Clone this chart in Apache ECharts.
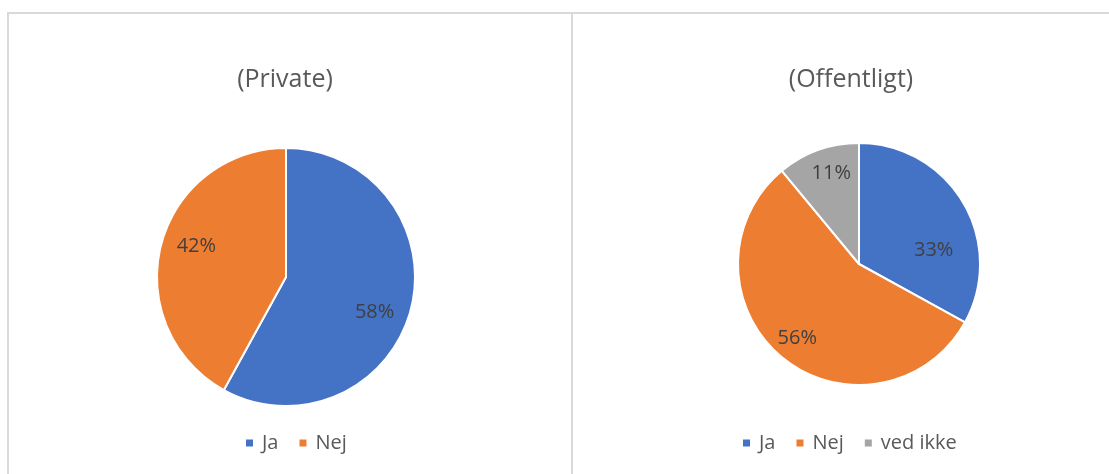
<!DOCTYPE html>
<html>
<head>
<meta charset="utf-8">
<script src="https://cdn.jsdelivr.net/npm/echarts@6/dist/echarts.min.js"></script>
<style>
html,body{margin:0;padding:0;background:#fff;}
#chart{width:1109px;height:474px;}
</style>
</head>
<body>
<div id="chart"></div>
<script>
// Data
const privateTitle = '(Private)';
const privateCategories = ['Ja', 'Nej'];
const privateValues = [58, 42];

const publicTitle = '(Offentligt)';
const publicCategories = ['Ja', 'Nej', 'ved ikke'];
const publicValues = [33, 56, 11];

// label nudges (style only, mimic Excel "best fit" placement)
const privateLabelNudge = [[-8, 10], [7, -6]];
const publicLabelNudge = [[-6, 34], [-2, 2], [4, -2]];

const colors = {'Ja': '#4472C4', 'Nej': '#ED7D31', 'ved ikke': '#A5A5A5'};
const FONT = 'Open Sans';

function toData(cats, vals) {
  return cats.map((c, i) => ({ name: c, value: vals[i], itemStyle: { color: colors[c] } }));
}

function pieSeries(cats, vals, nudge, cx, cy, r) {
  return [
    {
      type: 'pie',
      center: [cx, cy],
      radius: [0, r],
      startAngle: 90,
      clockwise: true,
      silent: true,
      label: { show: false },
      labelLine: { show: false },
      itemStyle: { borderColor: '#ffffff', borderWidth: 2 },
      data: toData(cats, vals)
    },
    {
      // label ring (transparent) placing labels at ~0.75 of radius
      type: 'pie',
      center: [cx, cy],
      radius: [r * 0.5, r],
      startAngle: 90,
      clockwise: true,
      silent: true,
      legendHoverLink: false,
      itemStyle: { color: 'rgba(0,0,0,0)', borderWidth: 0 },
      label: {
        show: true,
        position: 'inside',
        formatter: '{d}%',
        fontFamily: FONT,
        fontSize: 20,
        color: '#404040'
      },
      labelLine: { show: false },
      data: cats.map((c, i) => ({ name: c, value: vals[i], label: { offset: nudge[i] } }))
    }
  ];
}

const chart = echarts.init(document.getElementById('chart'), null, { renderer: 'canvas' });

const lineStyle = { stroke: '#d9d9d9', lineWidth: 2 };
const titleStyle = { fontFamily: FONT, fontSize: 25, fontWeight: 'normal', color: '#595959' };
const legendText = { fontFamily: FONT, fontSize: 20, color: '#595959', padding: [0, 0, 0, 3] };

chart.setOption({
  backgroundColor: '#ffffff',
  animation: false,
  title: [
    { text: privateTitle, left: 285, top: 67, textAlign: 'center', padding: 0, textStyle: titleStyle },
    { text: publicTitle, left: 851, top: 67, textAlign: 'center', padding: 0, textStyle: titleStyle }
  ],
  legend: [
    { data: privateCategories, left: 244, top: 433, padding: 0, icon: 'rect', itemWidth: 9, itemHeight: 9, itemGap: 19, textStyle: legendText },
    { data: publicCategories, left: 741, top: 433, padding: 0, icon: 'rect', itemWidth: 9, itemHeight: 9, itemGap: 19, textStyle: legendText }
  ],
  graphic: [
    { type: 'line', shape: { x1: 8, y1: 13, x2: 1109, y2: 13 }, style: lineStyle, silent: true },
    { type: 'line', shape: { x1: 8, y1: 12, x2: 8, y2: 474 }, style: lineStyle, silent: true },
    { type: 'line', shape: { x1: 572, y1: 12, x2: 572, y2: 474 }, style: lineStyle, silent: true }
  ],
  series: [].concat(
    pieSeries(privateCategories, privateValues, privateLabelNudge, 286, 277, 129),
    pieSeries(publicCategories, publicValues, publicLabelNudge, 859, 264, 121)
  )
});
</script>
</body>
</html>
